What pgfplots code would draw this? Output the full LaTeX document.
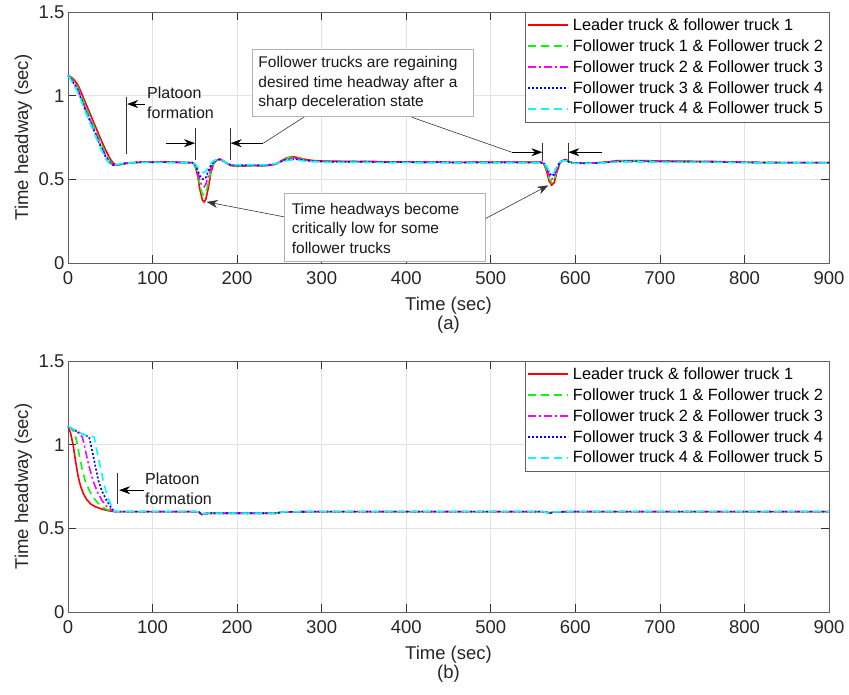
\documentclass[border=0pt]{standalone}
\usepackage{pgfplots}
\pgfplotsset{compat=1.18}
\usepackage{fontspec}
\setmainfont{Liberation Sans}
\usetikzlibrary{arrows.meta}
\definecolor{mgreen}{rgb}{0,1,0}
\definecolor{mmag}{rgb}{1,0,1}
\definecolor{mcyan}{rgb}{0,1,1}
\definecolor{mblue}{rgb}{0,0,1}
\definecolor{mred}{rgb}{1,0,0}
\newcommand\tickfont{\fontsize{18.5}{22}\selectfont}
\newcommand\legfont{\fontsize{16.3}{19}\selectfont}
\newcommand\annfont{\fontsize{15.5}{19.2}\selectfont}
\newcommand\platfont{\fontsize{16}{20}\selectfont}
\pgfplotsset{
  mstyle/.style={
    width=761pt, height=251pt, scale only axis,
    xmin=0, xmax=900, ymin=0, ymax=1.5,
    xtick={0,100,...,900}, ytick={0,0.5,1,1.5},
    grid=major, major grid style={draw=gray!22, line width=0.6pt},
    axis line style={draw=gray!75!black, line width=0.7pt},
    tick style={draw=black!80, line width=0.7pt},
    major tick length=8pt, tick align=inside,
    ticklabel style={font=\tickfont, text=black!85},
    xticklabel style={yshift=-5pt},
    /pgf/number format/assume math mode=true,
    xlabel={Time (sec)}, ylabel={Time headway (sec)},
    label style={font=\tickfont, text=black!85},
    xlabel style={yshift=-6pt},
    legend style={at={(1,1)}, anchor=north east, draw=gray!75!black,
      font=\legfont, inner xsep=2pt, inner ysep=2.5pt, row sep=0pt,
      nodes={inner sep=3.8pt}},
    legend cell align=left,
    legend image code/.code={\draw[#1, line width=1.6pt] (0pt,0pt) -- (40pt,0pt);},
    clip=false,
  },
  sred/.style={color=mred, solid, line width=1.6pt},
  sgreen/.style={color=mgreen, line width=1.6pt, dash pattern=on 8pt off 5pt},
  smag/.style={color=mmag, line width=1.6pt, dash pattern=on 8pt off 3pt on 2pt off 3pt},
  sblue/.style={color=mblue, line width=1.6pt, dash pattern=on 2pt off 2pt},
  scyan/.style={color=mcyan, line width=1.6pt, dash pattern=on 8pt off 5pt},
}
\begin{document}
\begin{tikzpicture}
\path (-68pt,263pt) rectangle (781pt,-432pt);
% ---------------- (a) ----------------
\begin{axis}[mstyle, name=top, at={(0pt,0pt)}]
\addplot[sred] coordinates {(0,1.12)(4,1.11)(8,1.09)(12,1.06)(16,1.015)(20,0.965)(25,0.905)(30,0.845)(35,0.785)(40,0.725)(45,0.67)(50,0.62)(54,0.595)(58,0.585)(62,0.588)(70,0.595)(80,0.60)(90,0.603)(100,0.602)(110,0.605)(120,0.602)(130,0.601)(140,0.60)(147,0.60)(150,0.585)(153,0.53)(156,0.44)(159,0.375)(161,0.365)(163,0.38)(166,0.45)(169,0.54)(172,0.59)(176,0.615)(180,0.62)(184,0.61)(188,0.595)(193,0.582)(200,0.578)(210,0.58)(220,0.582)(230,0.58)(240,0.585)(246,0.59)(252,0.61)(258,0.627)(265,0.635)(272,0.63)(280,0.62)(290,0.612)(300,0.61)(320,0.608)(340,0.606)(360,0.607)(380,0.603)(400,0.604)(420,0.602)(440,0.603)(460,0.60)(480,0.603)(500,0.602)(520,0.603)(540,0.602)(560,0.602)(563,0.59)(566,0.55)(569,0.49)(572,0.465)(575,0.48)(578,0.54)(582,0.60)(586,0.615)(589,0.618)(593,0.605)(598,0.598)(610,0.596)(625,0.598)(640,0.605)(650,0.612)(670,0.612)(700,0.61)(730,0.608)(760,0.607)(790,0.603)(820,0.60)(850,0.60)(900,0.60)};
\addlegendentry{Leader truck \& follower truck 1}
\addplot[sgreen] coordinates {(0,1.12)(4,1.105)(8,1.08)(12,1.045)(16,0.995)(20,0.945)(25,0.885)(30,0.825)(35,0.765)(40,0.705)(45,0.65)(50,0.605)(54,0.588)(58,0.585)(62,0.59)(70,0.597)(80,0.601)(90,0.602)(100,0.604)(110,0.603)(120,0.604)(130,0.60)(140,0.601)(147,0.60)(150,0.588)(153,0.54)(156,0.46)(159,0.41)(161,0.405)(163,0.42)(166,0.48)(169,0.55)(172,0.595)(176,0.615)(180,0.618)(184,0.608)(188,0.594)(193,0.583)(200,0.58)(210,0.581)(220,0.582)(230,0.581)(240,0.586)(246,0.592)(252,0.61)(258,0.625)(265,0.632)(272,0.628)(280,0.618)(290,0.611)(300,0.609)(320,0.606)(340,0.608)(360,0.605)(380,0.604)(400,0.603)(420,0.604)(440,0.601)(460,0.602)(480,0.601)(500,0.603)(520,0.601)(540,0.603)(560,0.601)(563,0.592)(566,0.56)(569,0.505)(572,0.48)(575,0.495)(578,0.55)(582,0.602)(586,0.614)(589,0.616)(593,0.604)(598,0.597)(610,0.597)(625,0.599)(640,0.604)(650,0.61)(670,0.611)(700,0.609)(730,0.607)(760,0.605)(790,0.603)(820,0.601)(850,0.60)(900,0.60)};
\addlegendentry{Follower truck 1 \& Follower truck 2}
\addplot[smag] coordinates {(0,1.12)(4,1.10)(8,1.075)(12,1.035)(16,0.985)(20,0.93)(25,0.87)(30,0.81)(35,0.75)(40,0.69)(45,0.64)(50,0.60)(54,0.585)(58,0.586)(62,0.592)(70,0.598)(80,0.602)(90,0.604)(100,0.603)(110,0.604)(120,0.603)(130,0.602)(140,0.60)(147,0.60)(150,0.59)(153,0.55)(156,0.49)(159,0.458)(161,0.455)(163,0.47)(166,0.52)(169,0.57)(172,0.60)(176,0.617)(180,0.619)(184,0.608)(188,0.595)(193,0.585)(200,0.582)(210,0.583)(220,0.584)(230,0.583)(240,0.587)(246,0.593)(252,0.608)(258,0.62)(265,0.626)(272,0.623)(280,0.615)(290,0.609)(300,0.607)(320,0.605)(340,0.606)(360,0.604)(380,0.603)(400,0.604)(420,0.602)(440,0.603)(460,0.601)(480,0.602)(500,0.601)(520,0.602)(540,0.601)(560,0.601)(563,0.594)(566,0.57)(569,0.525)(572,0.50)(575,0.512)(578,0.56)(582,0.603)(586,0.614)(589,0.615)(593,0.603)(598,0.597)(610,0.597)(625,0.598)(640,0.603)(650,0.608)(670,0.609)(700,0.608)(730,0.606)(760,0.605)(790,0.602)(820,0.601)(850,0.60)(900,0.60)};
\addlegendentry{Follower truck 2 \& Follower truck 3}
\addplot[sblue] coordinates {(0,1.12)(4,1.095)(8,1.065)(12,1.025)(16,0.975)(20,0.92)(25,0.86)(30,0.80)(35,0.74)(40,0.68)(45,0.63)(50,0.595)(54,0.584)(58,0.587)(62,0.593)(70,0.598)(80,0.601)(90,0.603)(100,0.602)(110,0.603)(120,0.602)(130,0.601)(140,0.60)(147,0.60)(150,0.592)(153,0.56)(156,0.52)(159,0.502)(161,0.50)(163,0.51)(166,0.55)(169,0.585)(172,0.605)(176,0.618)(180,0.619)(184,0.609)(188,0.596)(193,0.586)(200,0.584)(210,0.585)(220,0.585)(230,0.584)(240,0.588)(246,0.594)(252,0.606)(258,0.616)(265,0.621)(272,0.619)(280,0.613)(290,0.608)(300,0.606)(320,0.604)(340,0.605)(360,0.603)(380,0.602)(400,0.603)(420,0.601)(440,0.602)(460,0.60)(480,0.601)(500,0.60)(520,0.601)(540,0.60)(560,0.60)(563,0.595)(566,0.575)(569,0.54)(572,0.52)(575,0.53)(578,0.57)(582,0.604)(586,0.613)(589,0.614)(593,0.602)(598,0.596)(610,0.596)(625,0.597)(640,0.602)(650,0.606)(670,0.607)(700,0.606)(730,0.605)(760,0.604)(790,0.602)(820,0.60)(850,0.60)(900,0.60)};
\addlegendentry{Follower truck 3 \& Follower truck 4}
\addplot[scyan] coordinates {(0,1.12)(4,1.09)(8,1.055)(12,1.015)(16,0.965)(20,0.91)(25,0.85)(30,0.79)(35,0.73)(40,0.67)(45,0.62)(50,0.59)(54,0.583)(58,0.588)(62,0.593)(70,0.597)(80,0.60)(90,0.601)(100,0.60)(110,0.601)(120,0.60)(130,0.599)(140,0.599)(147,0.599)(150,0.594)(153,0.575)(156,0.553)(159,0.542)(161,0.54)(163,0.548)(166,0.572)(169,0.597)(172,0.61)(176,0.619)(180,0.619)(184,0.61)(188,0.597)(193,0.588)(200,0.586)(210,0.587)(220,0.587)(230,0.586)(240,0.589)(246,0.594)(252,0.604)(258,0.612)(265,0.616)(272,0.614)(280,0.609)(290,0.605)(300,0.603)(320,0.601)(340,0.602)(360,0.60)(380,0.599)(400,0.60)(420,0.598)(440,0.599)(460,0.598)(480,0.599)(500,0.598)(520,0.599)(540,0.598)(560,0.598)(563,0.594)(566,0.578)(569,0.55)(572,0.535)(575,0.542)(578,0.575)(582,0.604)(586,0.612)(589,0.612)(593,0.601)(598,0.595)(610,0.595)(625,0.596)(640,0.60)(650,0.603)(670,0.604)(700,0.603)(730,0.602)(760,0.602)(790,0.60)(820,0.599)(850,0.599)(900,0.599)};
\addlegendentry{Follower truck 4 \& Follower truck 5}
% annotations
\node[anchor=west, align=left, inner sep=0pt, font=\platfont, text=black!90] at (axis cs:93.4,0.958) {Platoon\\formation};
\draw[black!80, line width=0.6pt] (axis cs:68.6,0.99) -- (axis cs:68.6,0.653);
\draw[black, line width=0.6pt, -{Stealth[length=11pt,width=8pt]}] (axis cs:91,0.95) -- (axis cs:70,0.95);
\draw[black!80, line width=0.6pt] (axis cs:150.2,0.805) -- (axis cs:150.2,0.613);
\draw[black!80, line width=0.6pt] (axis cs:192.4,0.805) -- (axis cs:192.4,0.613);
\draw[black, line width=0.6pt, -{Stealth[length=11pt,width=8pt]}] (axis cs:116,0.716) -- (axis cs:150.2,0.716);
\draw[black, line width=0.6pt, -{Stealth[length=11pt,width=8pt]}] (axis cs:231,0.716) -- (axis cs:192.4,0.716);
\draw[black!80, line width=0.6pt] (axis cs:231,0.716) -- (axis cs:280,0.875);
\draw[black!80, line width=0.6pt] (axis cs:561,0.72) -- (axis cs:561,0.61);
\draw[black!80, line width=0.6pt] (axis cs:591.7,0.72) -- (axis cs:591.7,0.61);
\draw[black, line width=0.6pt, -{Stealth[length=11pt,width=8pt]}] (axis cs:524.7,0.662) -- (axis cs:561,0.662);
\draw[black, line width=0.6pt, -{Stealth[length=11pt,width=8pt]}] (axis cs:631,0.662) -- (axis cs:591.7,0.662);
\draw[black!80, line width=0.6pt] (axis cs:406.5,0.871) -- (axis cs:524.7,0.662);
\draw[gray!60, fill=white, line width=0.7pt] (axis cs:217.6,1.274) rectangle (axis cs:479,0.875);
\node[anchor=west, align=left, inner sep=0pt, font=\annfont, text=black!90] at (axis cs:225,1.0756) {Follower trucks are regaining\\desired time headway after a\\sharp deceleration state};
\draw[gray!60, fill=white, line width=0.7pt] (axis cs:255.4,0.415) rectangle (axis cs:493,0.008);
\node[anchor=west, align=left, inner sep=0pt, font=\annfont, text=black!90] at (axis cs:264.5,0.2065) {Time headways become\\critically low for some\\follower trucks};
\draw[black!80, line width=0.6pt, -{Stealth[length=11pt,width=8pt]}] (axis cs:255.4,0.276) -- (axis cs:164,0.365);
\draw[black!80, line width=0.6pt, -{Stealth[length=11pt,width=8pt]}] (axis cs:494,0.266) -- (axis cs:568,0.464);
\end{axis}
\node[font=\tickfont, text=black!85] at ([yshift=-62pt]top.south) {(a)};
% ---------------- (b) ----------------
\begin{axis}[mstyle, name=bot, at={(0pt,-349pt)}]
\addplot[sred] coordinates {(0,1.11)(3,1.07)(6,1.0)(9,0.9)(12,0.81)(15,0.75)(18,0.71)(22,0.672)(27,0.645)(32,0.63)(40,0.615)(48,0.605)(55,0.60)(100,0.60)(150,0.60)(155,0.597)(158,0.582)(161,0.588)(170,0.59)(200,0.59)(245,0.59)(255,0.598)(300,0.60)(560,0.60)(566,0.596)(570,0.592)(575,0.598)(600,0.60)(900,0.60)};
\addlegendentry{Leader truck \& follower truck 1}
\addplot[sgreen] coordinates {(0,1.11)(4,1.095)(8,1.07)(11,1.0)(14,0.92)(17,0.85)(20,0.79)(24,0.74)(28,0.70)(33,0.665)(38,0.638)(44,0.617)(50,0.605)(55,0.60)(100,0.60)(150,0.60)(155,0.597)(158,0.583)(161,0.588)(170,0.59)(200,0.59)(245,0.59)(255,0.598)(300,0.60)(560,0.60)(566,0.596)(570,0.592)(575,0.598)(600,0.60)(900,0.60)};
\addlegendentry{Follower truck 1 \& Follower truck 2}
\addplot[smag] coordinates {(0,1.11)(8,1.085)(14,1.065)(17,1.045)(20,0.98)(23,0.91)(26,0.85)(30,0.78)(35,0.715)(40,0.668)(45,0.635)(50,0.615)(55,0.60)(100,0.60)(150,0.60)(155,0.597)(158,0.583)(161,0.588)(170,0.59)(200,0.59)(245,0.59)(255,0.598)(300,0.60)(560,0.60)(566,0.596)(570,0.592)(575,0.598)(600,0.60)(900,0.60)};
\addlegendentry{Follower truck 2 \& Follower truck 3}
\addplot[sblue] coordinates {(0,1.11)(10,1.08)(20,1.058)(25,1.045)(27,1.0)(30,0.93)(33,0.855)(36,0.785)(40,0.725)(45,0.672)(50,0.632)(55,0.60)(100,0.60)(150,0.60)(155,0.597)(158,0.583)(161,0.588)(170,0.59)(200,0.59)(245,0.59)(255,0.598)(300,0.60)(560,0.60)(566,0.596)(570,0.592)(575,0.598)(600,0.60)(900,0.60)};
\addlegendentry{Follower truck 3 \& Follower truck 4}
\addplot[scyan] coordinates {(0,1.11)(10,1.08)(20,1.058)(27,1.05)(31,1.045)(33,0.99)(36,0.92)(39,0.85)(42,0.78)(45,0.72)(48,0.672)(51,0.64)(55,0.60)(100,0.60)(150,0.60)(155,0.597)(158,0.583)(161,0.588)(170,0.59)(200,0.59)(245,0.59)(255,0.598)(300,0.60)(560,0.60)(566,0.596)(570,0.592)(575,0.598)(600,0.60)(900,0.60)};
\addlegendentry{Follower truck 4 \& Follower truck 5}
\node[anchor=west, align=left, inner sep=0pt, font=\platfont, text=black!90] at (axis cs:91,0.738) {Platoon\\formation};
\draw[black!80, line width=0.6pt] (axis cs:58.4,0.83) -- (axis cs:58.4,0.643);
\draw[black, line width=0.6pt, -{Stealth[length=11pt,width=8pt]}] (axis cs:90,0.728) -- (axis cs:60.5,0.728);
\end{axis}
\node[font=\tickfont, text=black!85] at ([yshift=-62pt]bot.south) {(b)};
\end{tikzpicture}
\end{document}
